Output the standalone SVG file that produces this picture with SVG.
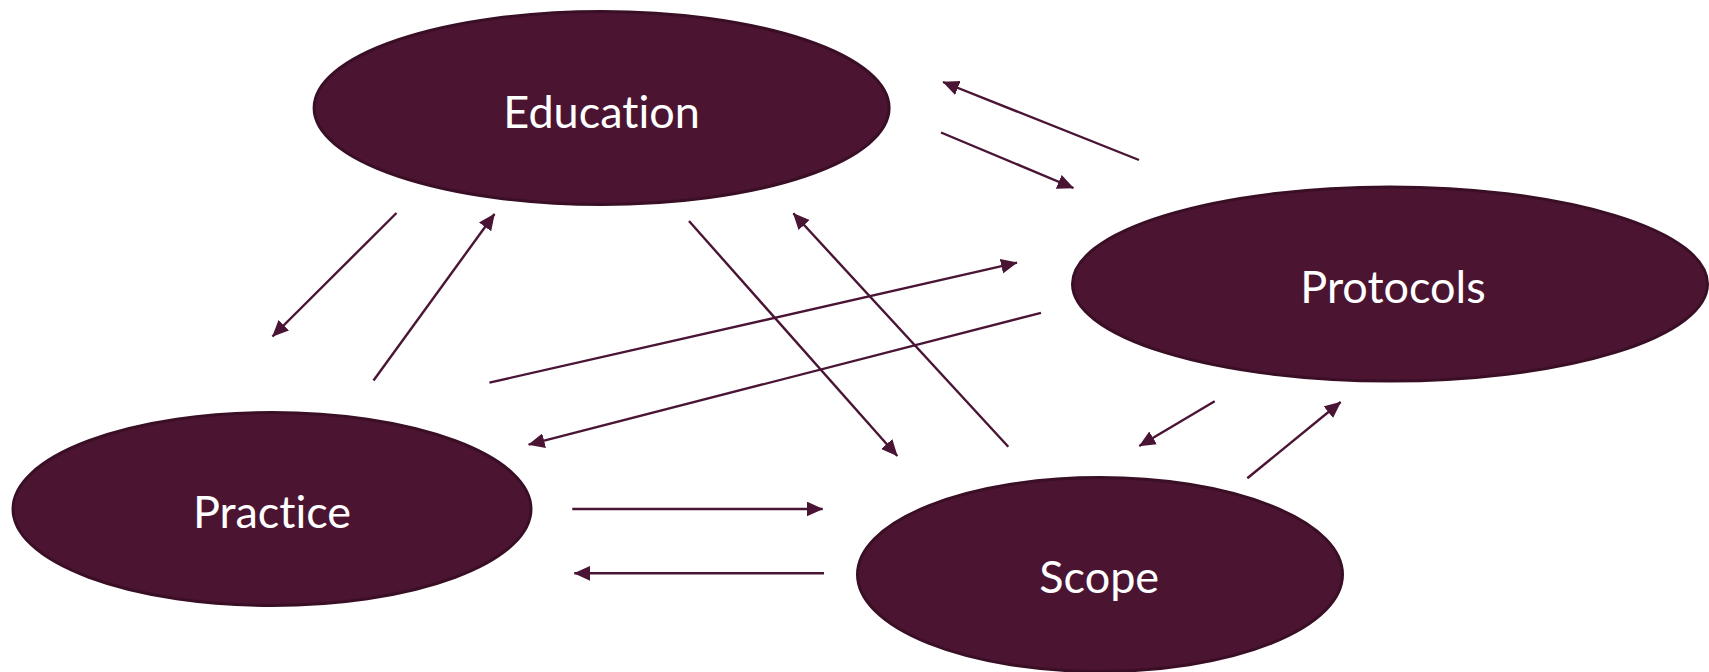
<svg xmlns="http://www.w3.org/2000/svg" width="1709" height="672" viewBox="0 0 1709 672">
  <style>
    .node ellipse { fill: #4b1532; stroke: #3a0f26; stroke-width: 3; }
    .node text { fill: #ffffff; font-family: Lato, "Open Sans", "Liberation Sans", sans-serif; font-size: 45px; text-anchor: middle; font-variant-ligatures: none; font-feature-settings: "liga" 0, "clig" 0; }
    .link { stroke: #4a1434; stroke-width: 2.4; fill: none; marker-end: url(#head); }
  </style>
  <defs>
    <marker id="head" markerUnits="userSpaceOnUse" markerWidth="18" markerHeight="16" refX="16" refY="7.5" orient="auto">
      <path d="M0,0 L16.5,7.5 L0,15 Z" fill="#4a1434"/>
    </marker>
  </defs>

  <rect width="1709" height="672" fill="#ffffff"/>

  <g id="connectors">
    <line class="link" x1="1139" y1="160" x2="943" y2="82"/>
    <line class="link" x1="941" y1="132.5" x2="1073.5" y2="188"/>
    <line class="link" x1="396.5" y1="213" x2="272.5" y2="336.5"/>
    <line class="link" x1="373.5" y1="380.5" x2="494.5" y2="214"/>
    <line class="link" x1="689" y1="221" x2="897.3" y2="456"/>
    <line class="link" x1="1008.3" y1="446.7" x2="793.3" y2="213.3"/>
    <line class="link" x1="489.4" y1="382.6" x2="1017" y2="262.7"/>
    <line class="link" x1="1041" y1="312.8" x2="528.6" y2="444.7"/>
    <line class="link" x1="1214.7" y1="401.3" x2="1139.3" y2="446"/>
    <line class="link" x1="1247.3" y1="478.3" x2="1340.7" y2="402"/>
    <line class="link" x1="572.3" y1="509" x2="822.7" y2="509"/>
    <line class="link" x1="824" y1="573.3" x2="574.3" y2="573.3"/>
  </g>

  <g id="education" class="node">
    <ellipse cx="601.6" cy="108" rx="287.5" ry="96.5"/>
    <text x="601.6" y="127.5">Education</text>
  </g>

  <g id="protocols" class="node">
    <ellipse cx="1390" cy="284" rx="317.5" ry="97"/>
    <text x="1393" y="303">Protocols</text>
  </g>

  <g id="practice" class="node">
    <ellipse cx="272" cy="509" rx="259" ry="96.5"/>
    <text x="272" y="527.5">Practice</text>
  </g>

  <g id="scope" class="node">
    <ellipse cx="1100" cy="574.5" rx="242.5" ry="97"/>
    <text x="1099.2" y="593">Scope</text>
  </g>
</svg>
